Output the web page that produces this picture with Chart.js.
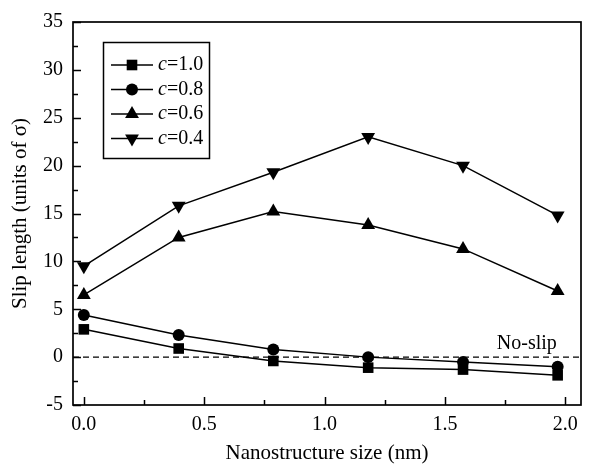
<!DOCTYPE html>
<html>
<head>
<meta charset="utf-8">
<script src="https://cdn.jsdelivr.net/npm/chart.js@4/dist/chart.umd.min.js"></script>
<style>
  html, body { margin: 0; padding: 0; background: #fff; }
  #wrap { width: 589px; height: 466px; }
</style>
</head>
<body>
<div id="wrap"><canvas id="slipChart" width="589" height="466"></canvas></div>
<script>
// nanostructure size (nm)
var sizes = [0, 0.394, 0.787, 1.181, 1.575, 1.968];
// slip length (units of sigma)
var c10 = [2.9, 0.9, -0.4, -1.1, -1.3, -1.9];
var c08 = [4.4, 2.3, 0.8, 0.0, -0.5, -1.0];
var c06 = [6.5, 12.5, 15.2, 13.8, 11.3, 6.9];
var c04 = [9.5, 15.8, 19.3, 23.0, 20.0, 14.8];

var xTicks = [0, 0.25, 0.5, 0.75, 1.0, 1.25, 1.5, 1.75, 2.0];
var yTicks = [-5, -2.5, 0, 2.5, 5, 7.5, 10, 12.5, 15, 17.5, 20, 22.5, 25, 27.5, 30, 32.5, 35];

var FONT = '"Liberation Serif", "Times New Roman", serif';

function pts(ys) {
    return sizes.map(function(x, i) { return { x: x, y: ys[i] }; });
}

var series = [
    { label: '1.0', data: c10, style: 'rect', radius: 7.5, rot: 0 },
    { label: '0.8', data: c08, style: 'circle', radius: 6, rot: 0 },
    { label: '0.6', data: c06, style: 'triangle', radius: 8, rot: 0 },
    { label: '0.4', data: c04, style: 'triangle', radius: 8, rot: 180 }
];

// frame, inward ticks, zero line, no-slip label and legend
var decor = {
    id: 'decor',
    afterDatasetsDraw: function(chart) {
        var ctx = chart.ctx;
        var a = chart.chartArea;
        var xs = chart.scales.x, ys = chart.scales.y;
        ctx.save();

        // zero line
        var y0 = ys.getPixelForValue(0);
        ctx.strokeStyle = '#000';
        ctx.lineWidth = 1.4;
        ctx.setLineDash([6, 4]);
        ctx.beginPath();
        ctx.moveTo(a.left, y0);
        ctx.lineTo(a.right, y0);
        ctx.stroke();
        ctx.setLineDash([]);

        // frame
        ctx.lineWidth = 1.7;
        ctx.strokeRect(a.left, a.top, a.right - a.left, a.bottom - a.top);

        // ticks
        ctx.lineWidth = 1.5;
        ctx.beginPath();
        xTicks.forEach(function(v, i) {
            var px = Math.round(xs.getPixelForValue(v)) + 0.5;
            var len = (i % 2 === 0) ? 8 : 5;
            ctx.moveTo(px, a.bottom);
            ctx.lineTo(px, a.bottom - len);
        });
        yTicks.forEach(function(v, i) {
            var py = Math.round(ys.getPixelForValue(v)) + 0.5;
            var len = (i % 2 === 0) ? 8 : 5;
            ctx.moveTo(a.left, py);
            ctx.lineTo(a.left + len, py);
        });
        ctx.stroke();

        // No-slip
        ctx.fillStyle = '#000';
        ctx.font = '20px ' + FONT;
        ctx.textAlign = 'center';
        ctx.textBaseline = 'alphabetic';
        ctx.fillText('No-slip', xs.getPixelForValue(1.84), ys.getPixelForValue(0) - 8);

        // legend
        var lx = a.left + 30, ly = a.top + 20;
        var lw = 106, lh = 116;
        ctx.lineWidth = 1.5;
        ctx.strokeRect(lx + 0.5, ly + 0.5, lw, lh);
        series.forEach(function(s, i) {
            var ry = ly + 23 + i * 24.5;
            ctx.lineWidth = 1.5;
            ctx.beginPath();
            ctx.moveTo(lx + 8, ry);
            ctx.lineTo(lx + 50, ry);
            ctx.stroke();
            Chart.helpers.drawPoint(ctx, {
                pointStyle: s.style, radius: s.radius, rotation: s.rot, borderWidth: 0
            }, lx + 29, ry);
            ctx.textAlign = 'left';
            ctx.textBaseline = 'middle';
            ctx.font = 'italic 20px ' + FONT;
            ctx.fillText('c', lx + 55, ry);
            var cw = ctx.measureText('c').width;
            ctx.font = '20px ' + FONT;
            ctx.fillText('=' + s.label, lx + 55 + cw, ry);
        });
        ctx.restore();
    }
};

var ctx = document.getElementById('slipChart').getContext('2d');
var chart = new Chart(ctx, {
    type: 'line',
    data: {
        datasets: series.map(function(s) {
            return {
                label: 'c=' + s.label,
                data: pts(s.data),
                borderColor: '#000',
                backgroundColor: '#000',
                borderWidth: 1.5,
                pointStyle: s.style,
                pointRadius: s.radius,
                pointRotation: s.rot,
                pointBorderWidth: 0,
                tension: 0
            };
        })
    },
    options: {
        responsive: false,
        animation: false,
        layout: { padding: { top: 22, right: 6, left: 0, bottom: 0 } },
        plugins: {
            legend: { display: false },
            tooltip: { enabled: false }
        },
        scales: {
            x: {
                type: 'linear',
                min: -0.045,
                max: 2.065,
                afterBuildTicks: function(scale) {
                    scale.ticks = xTicks.map(function(v) { return { value: v }; });
                },
                afterFit: function(scale) { scale.height = 61; },
                grid: { display: false, drawTicks: false },
                border: { display: false },
                ticks: {
                    padding: 8,
                    color: '#000',
                    font: { family: FONT, size: 20 },
                    autoSkip: false,
                    maxRotation: 0,
                    callback: function(v) {
                        return (Math.round(v * 100) % 50 === 0) ? v.toFixed(1) : '';
                    }
                },
                title: {
                    display: true,
                    text: 'Nanostructure size (nm)',
                    color: '#000',
                    font: { family: FONT, size: 21 },
                    padding: { top: 9, bottom: 0 }
                }
            },
            y: {
                type: 'linear',
                min: -5,
                max: 35,
                afterBuildTicks: function(scale) {
                    scale.ticks = yTicks.map(function(v) { return { value: v }; });
                },
                afterFit: function(scale) { scale.width = 73; },
                grid: { display: false, drawTicks: false },
                border: { display: false },
                ticks: {
                    padding: 10,
                    color: '#000',
                    font: { family: FONT, size: 20 },
                    autoSkip: false,
                    callback: function(v) {
                        return (v % 5 === 0) ? String(v) : '';
                    }
                },
                title: {
                    display: true,
                    text: 'Slip length (units of σ)',
                    color: '#000',
                    font: { family: FONT, size: 21 },
                    padding: { top: 8, bottom: 0 }
                }
            }
        }
    },
    plugins: [decor]
});
</script>
</body>
</html>
